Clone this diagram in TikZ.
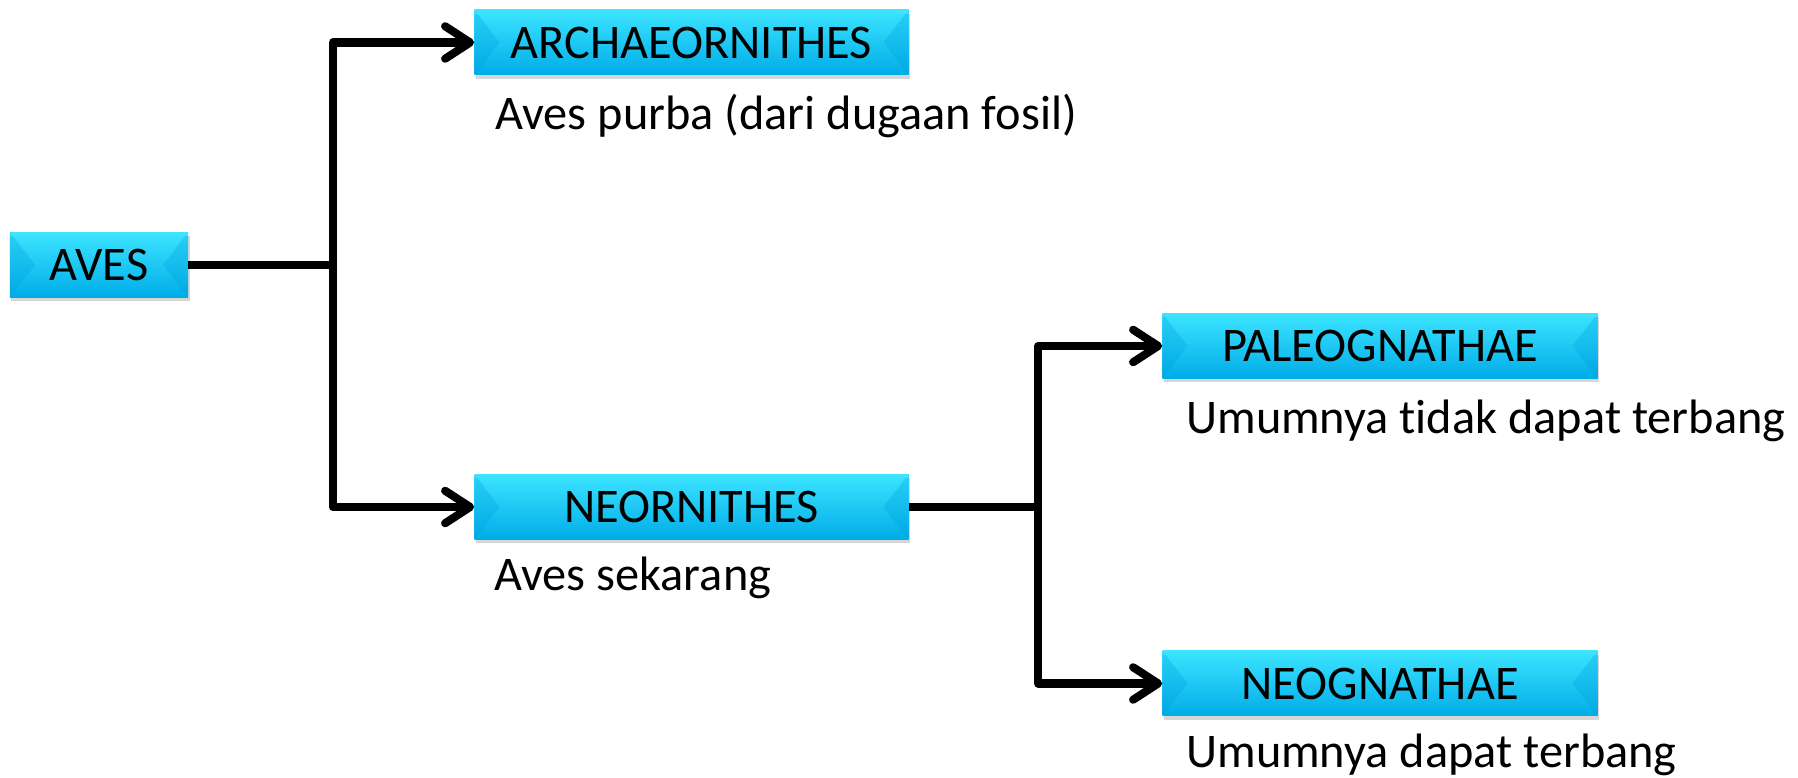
\documentclass[tikz,border=0pt]{standalone}
\usepackage{fontspec}
\setmainfont[RawFeature=-liga]{Carlito}
\usetikzlibrary{arrows.meta,shadows}
\definecolor{boxtop}{RGB}{60,228,255}
\definecolor{boxmid}{RGB}{18,192,242}
\definecolor{boxbot}{RGB}{0,172,232}
\definecolor{boxside}{RGB}{0,160,222}
\tikzset{
  bevelside/.style={fill=boxside,opacity=.3},
  bevellight/.style={fill=boxtop,opacity=.8},
  taxon/.style={rectangle,minimum height=1.3cm,inner sep=0pt,
    top color=boxtop,middle color=boxmid,bottom color=boxbot,
    drop shadow={shadow xshift=0.03cm,shadow yshift=-0.08cm,fill=black!40,opacity=.4},
    font=\fontsize{27.5}{33}\selectfont,
    path picture={
      \fill[bevelside] (path picture bounding box.north west) -- ([xshift=0.5cm]path picture bounding box.west) -- (path picture bounding box.south west) -- cycle;
      \fill[bevelside] (path picture bounding box.north east) -- ([xshift=-0.5cm]path picture bounding box.east) -- (path picture bounding box.south east) -- cycle;
      \fill[bevellight] (path picture bounding box.north west) rectangle ([yshift=-0.08cm]path picture bounding box.north east);
    }},
  note/.style={anchor=base west,inner sep=0pt,font=\fontsize{27.5}{33}\selectfont},
  link/.style={line width=4.6pt,line join=round},
  branch/.style={link,-{Straight Barb[length=0.5cm,width=0.65cm,line cap=round,line join=round]}},
}
\begin{document}
\begin{tikzpicture}
\useasboundingbox (0,0) rectangle (35.96,15.56);
\node[taxon,minimum width=3.56cm] (aves) at (1.98,10.26) {AVES};
\node[taxon,minimum width=8.68cm] (archae) at (13.83,14.71) {ARCHAEORNITHES};
\node[taxon,minimum width=8.68cm] (neorn) at (13.83,5.42) {NEORNITHES};
\node[taxon,minimum width=8.7cm] (paleo) at (27.6,8.64) {PALEOGNATHAE};
\node[taxon,minimum width=8.7cm] (neogn) at (27.6,1.89) {NEOGNATHAE};
\node[note] (archaenote) at (9.9,12.96) {Aves purba (dari dugaan fosil)};
\node[note] (neornnote) at (9.88,3.74) {Aves sekarang};
\node[note] (paleonote) at (23.72,6.88) {Umumnya tidak dapat terbang};
\node[note] (neognnote) at (23.72,0.2) {Umumnya dapat terbang};
\coordinate (fork1) at (6.66,10.26);
\coordinate (fork2) at (20.76,5.42);
\draw[link] (aves.east) -- (fork1);
\draw[branch] (fork1) |- (archae.west);
\draw[branch] (fork1) |- (neorn.west);
\draw[link] (neorn.east) -- (fork2);
\draw[branch] (fork2) |- (paleo.west);
\draw[branch] (fork2) |- (neogn.west);
\end{tikzpicture}
\end{document}
